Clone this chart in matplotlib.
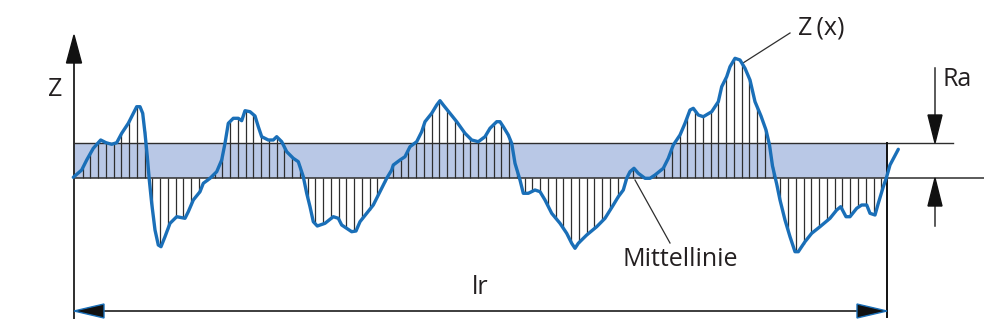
import numpy as np
import matplotlib.pyplot as plt
from matplotlib.patches import Polygon, Rectangle

# Profil Z(x): Position entlang lr und Hoehe ueber der Mittellinie
prof_x = [73.3, 81.7, 86.7, 93.3, 100.7, 106, 111.7, 116.7, 121.7, 128.3, 133.3, 136.7, 140,
          142.7, 145, 147.3, 149.3, 151.7, 155, 158.3, 161, 165, 170, 176.7, 185, 188.3, 193.3,
          200, 203.3, 210, 216.7, 221.7, 225, 228.3, 233.3, 238.3, 241.7, 245, 250, 255, 258.3,
          261.7, 268.3, 273.3, 276.7, 281.7, 286.7, 293.3, 298.3, 303.3, 306.7, 310, 313.3, 317.3,
          325, 333.3, 338.3, 341.7, 346.7, 351.7, 356, 360, 366.7, 373.3, 380, 386.7, 391.7, 393.3,
          400, 405, 410, 416.7, 421.7, 425, 431.7, 436.7, 440, 443.3, 450, 456.7, 465, 471.7, 478.3,
          485, 490, 496.7, 500, 503.3, 508.3, 511.7, 515, 520, 523.3, 528.3, 535, 540, 545, 551.7,
          560, 566.7, 571.7, 575, 578.3, 586.7, 596.7, 605, 613.3, 618.3, 623.3, 626.7, 630, 634,
          638.3, 645, 650, 655, 663.3, 668.3, 673.3, 680, 685, 690, 693.3, 698.3, 703.3, 711.7,
          718.3, 721.7, 726.7, 730, 735, 740, 745, 750, 755, 761, 766, 769.5, 772.5, 776.7, 780,
          785, 790, 795, 798.3, 805, 811.7, 820, 830, 836.7, 840.7, 843.3, 846, 850, 856.7, 861.7,
          866.7, 870, 875, 878.3, 883.3, 886.7, 890, 898.3]
prof_z = [0.7, 8, 18, 29.7, 38, 35.3, 33.7, 35.3, 44.7, 54.7, 64.7, 71.3, 71.3,
          64.7, 44.7, 21.3, -2, -25.3, -52, -67, -68.7, -58.7, -45.3, -38.7, -40.3, -33.7, -22,
          -13.7, -5.3, -0.3, 6.3, 18, 34.7, 54.7, 59.7, 59.7, 57.3, 67.3, 66.3, 62, 51.3,
          41.3, 38, 38, 41.3, 36.3, 26.3, 19.7, 16.3, 1.3, -15.3, -28.7, -43.7, -48,
          -45.3, -38.7, -40.3, -47, -50.3, -53.7, -53, -43.7, -35.3, -27, -13.7, -0.3, 8, 13,
          18, 21.3, 31.3, 36.3, 46.3, 56.3, 64.7, 73, 77.3, 73, 64.7, 56.3, 44.7, 38, 36.3,
          41.3, 49.7, 56.3, 56.3, 51.3, 43, 34.7, 14.7, -2, -15.3, -15.3, -12, -13.7, -22, -35.3,
          -45.3, -55.3, -65.3, -70.3, -65.3, -57, -48.7, -40.3, -27, -18.7, -12, -0.3, 6.3, 9.7,
          4.7, -0.3, -0.3, 3, 9.7, 19.7, 33, 43, 54.7, 68, 69.7, 63, 61.3, 66.3,
          76.3, 91.3, 101.3, 111.3, 119.7, 118, 109.7, 98, 76.3, 62, 48, 33, 12, -6, -22,
          -42, -58.7, -73.7, -73.7, -63.7, -55.3, -48.7, -40.3, -32, -28.7, -33.7, -38.7, -38.7, -30.3, -27,
          -27, -35.3, -37, -25.3, -8.7, 1.3, 13, 28.7]

x0, x1 = 74, 887      # Bezugsstrecke lr
ra = 35               # Ra-Band Hoehe

blue = '#1a6fb8'
band = '#b9c8e6'
dark = '#2e2e2e'
txt = '#231f20'

plt.rcParams['font.family'] = ['Open Sans', 'DejaVu Sans']

fig = plt.figure(figsize=(9.84, 3.31), dpi=100)
ax = fig.add_axes([0, 0, 1, 1])
ax.set_xlim(0, 984)
ax.set_ylim(-153, 178)
ax.axis('off')

# Ra-Band
ax.add_patch(Rectangle((x0, 0), x1 - x0, ra, facecolor=band, edgecolor='none', zorder=1))
ax.plot([x0, 953], [ra, ra], color=dark, lw=1.0, zorder=3)
ax.plot([x0, 984], [0, 0], color=dark, lw=1.1, zorder=3)

# Schraffur zwischen Profil und Mittellinie
hx = np.arange(82.7, 882, 7.753)
hz = np.interp(hx, prof_x, prof_z)
ax.vlines(hx, 0, hz, color=dark, lw=0.9, zorder=2)

# Profil
ax.plot(prof_x, prof_z, color=blue, lw=2.4, solid_joinstyle='round', solid_capstyle='round', zorder=4)

# Z-Achse
ax.plot([x0, x0], [-140, 116], color=dark, lw=1.4, zorder=3)
ax.add_patch(Polygon([[x0, 143], [x0 - 7.5, 115], [x0 + 7.5, 115]], closed=True, color='#111111', zorder=5))
ax.text(55, 89, 'Z', fontsize=18, color=txt, ha='center', va='center')

# rechte Begrenzung
ax.plot([x1, x1], [ra, -139], color='#111111', lw=1.4, zorder=3)

# lr Masspfeil
ax.plot([x0 + 20, x1 - 20], [-133, -133], color=dark, lw=1.3, zorder=3)
ax.add_patch(Polygon([[x0, -133], [x0 + 30, -126], [x0 + 30, -140]], closed=True,
                     facecolor='#111111', edgecolor=blue, lw=1.0, zorder=5))
ax.add_patch(Polygon([[x1, -133], [x1 - 30, -126], [x1 - 30, -140]], closed=True,
                     facecolor='#111111', edgecolor=blue, lw=1.0, zorder=5))
ax.text(480, -109, 'lr', fontsize=18, color=txt, ha='center', va='center')

# Ra Masspfeile
xa = 935
ax.plot([xa, xa], [110, 60], color=dark, lw=1.1)
ax.add_patch(Polygon([[xa, ra], [xa - 7, 63], [xa + 7, 63]], closed=True, color='#111111', zorder=5))
ax.plot([xa, xa], [-48, -26], color=dark, lw=1.1)
ax.add_patch(Polygon([[xa, 0], [xa - 7, -28], [xa + 7, -28]], closed=True, color='#111111', zorder=5))
ax.text(957, 98, 'Ra', fontsize=18, color=txt, ha='center', va='center')

# Beschriftungen mit Hinweislinien
ax.plot([743, 790], [115, 145], color=dark, lw=0.9)
ax.text(821, 150, 'Z\u2009(x)', fontsize=18, color=txt, ha='center', va='center')
ax.plot([635, 670], [-2, -65], color=dark, lw=0.9)
ax.text(680, -81, 'Mittellinie', fontsize=18, color=txt, ha='center', va='center')

fig.savefig('out.png', dpi=100)
